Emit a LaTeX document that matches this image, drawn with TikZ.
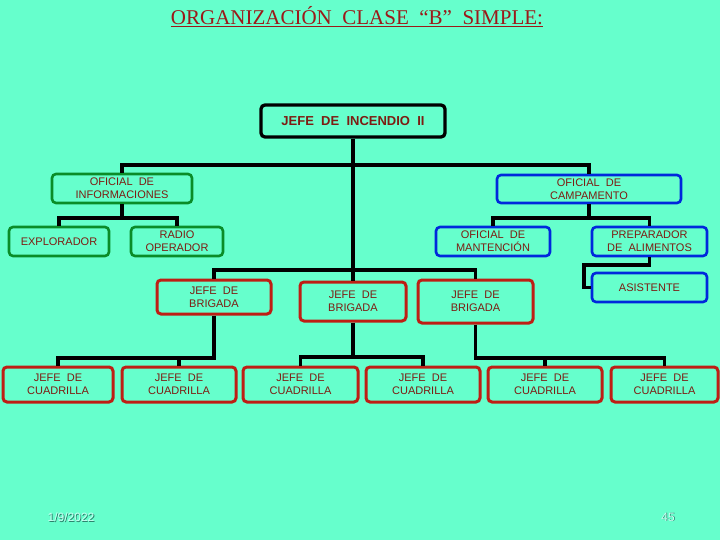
\documentclass[tikz,border=0pt]{standalone}
\usepackage{fontspec}
\setmainfont{Liberation Serif}
\newfontfamily\boxfont{Liberation Sans}
\definecolor{bg}{RGB}{102,255,204}
\definecolor{txt}{RGB}{125,28,18}
\definecolor{ttl}{RGB}{155,25,25}
\definecolor{rbord}{RGB}{190,30,20}
\definecolor{gbord}{RGB}{10,140,40}
\definecolor{bbord}{RGB}{0,40,220}
\definecolor{footfg}{RGB}{200,255,242}
\definecolor{footsh}{RGB}{40,120,100}
\tikzset{
  box/.style={draw, rounded corners=4pt, align=center, inner sep=0pt,
    font=\boxfont\fontsize{11}{13}\selectfont, text=txt},
  redbox/.style={box, draw=rbord, line width=3pt},
  greenbox/.style={box, draw=gbord, line width=2.6pt},
  bluebox/.style={box, draw=bbord, line width=2.6pt},
  link/.style={draw=black, line width=3.3pt},
  foot/.style={font=\boxfont\fontsize{12}{14}\selectfont, inner sep=0pt},
}
\begin{document}
\begin{tikzpicture}[x=1pt,y=-1pt]
\fill[bg] (0,0) rectangle (720,540);
\useasboundingbox (0,0) rectangle (720,540);
% title
\node[text=ttl, font=\fontsize{21}{24}\selectfont, inner sep=0pt] (title) at (357,17)
  {\underline{ORGANIZACIÓN\ \ CLASE\ \ “B”\ \ SIMPLE:}};
% boxes
\node[box, draw=black, line width=3.3pt, minimum width=184pt, minimum height=32pt,
  font=\boxfont\bfseries\fontsize{13}{15}\selectfont] (inc) at (353,121) {JEFE\ \ DE\ \ INCENDIO\ \ II};
\node[greenbox, minimum width=140pt, minimum height=29pt] (info) at (122,188.5) {OFICIAL\ \ DE\\INFORMACIONES};
\node[bluebox, minimum width=184pt, minimum height=28pt] (camp) at (589,189) {OFICIAL\ \ DE\\CAMPAMENTO};
\node[greenbox, minimum width=100pt, minimum height=29pt] (expl) at (59,241.5) {EXPLORADOR};
\node[greenbox, minimum width=92pt, minimum height=29pt] (radio) at (177,241.5) {RADIO\\OPERADOR};
\node[bluebox, minimum width=114pt, minimum height=29pt] (mant) at (493,241.5) {OFICIAL\ \ DE\\MANTENCIÓN};
\node[bluebox, minimum width=115pt, minimum height=29pt] (prep) at (649.5,241.5) {PREPARADOR\\DE\ \ ALIMENTOS};
\node[bluebox, minimum width=115pt, minimum height=29pt] (asis) at (649.5,287.5) {ASISTENTE};
\node[redbox, minimum width=114pt, minimum height=34pt] (b1) at (214,297) {JEFE\ \ DE\\BRIGADA};
\node[redbox, minimum width=106pt, minimum height=39pt] (b2) at (353,301.5) {JEFE\ \ DE\\BRIGADA};
\node[redbox, minimum width=115pt, minimum height=43pt] (b3) at (475.5,301.5) {JEFE\ \ DE\\BRIGADA};
\node[redbox, minimum width=110pt, minimum height=35pt] (c1) at (58,384.5) {JEFE\ \ DE\\CUADRILLA};
\node[redbox, minimum width=114pt, minimum height=35pt] (c2) at (179,384.5) {JEFE\ \ DE\\CUADRILLA};
\node[redbox, minimum width=115pt, minimum height=35pt] (c3) at (300.5,384.5) {JEFE\ \ DE\\CUADRILLA};
\node[redbox, minimum width=114pt, minimum height=35pt] (c4) at (423,384.5) {JEFE\ \ DE\\CUADRILLA};
\node[redbox, minimum width=114pt, minimum height=35pt] (c5) at (545,384.5) {JEFE\ \ DE\\CUADRILLA};
\node[redbox, minimum width=107pt, minimum height=35pt] (c6) at (664.5,384.5) {JEFE\ \ DE\\CUADRILLA};
% junctions
\coordinate (j1) at (353,165);
\coordinate (j2) at (353,270);
\coordinate (k1) at (122,218);
\coordinate (k2) at (589,218);
\coordinate (a1) at (584,265);
\coordinate (m1) at (214,358);
\coordinate (m2) at (353,357);
\coordinate (m3) at (475.5,358);
% connectors
\draw[link] (inc.south) -- (j2);
\draw[link] (info.north) |- (j1) -| (camp.north);
\draw[link] (info.south) -- (k1);
\draw[link] (expl.north) |- (k1) -| (radio.north);
\draw[link] (camp.south) -- (k2);
\draw[link] (mant.north) |- (k2) -| (prep.north);
\draw[link] (prep.south) |- (a1) |- (asis.west);
\draw[link] (b1.north) |- (j2) -| (b3.north);
\draw[link] (j2) -- (b2.north);
\draw[link] (b1.south) -- (m1) -| (c1.north);
\draw[link] (c2.north) -- (c2.north |- m1);
\draw[link] (b2.south) -- (m2);
\draw[link] (c3.north) |- (m2) -| (c4.north);
\draw[link] (b3.south) -- (m3) -| (c6.north);
\draw[link] (c5.north) -- (c5.north |- m3);
% footer
\node[foot, text=footsh] at (71.9,517.9) {1/9/2022};
\node[foot, text=footfg] (date) at (71,517) {1/9/2022};
\node[foot, text=footsh] at (668.9,517.9) {45};
\node[foot, text=footfg] (page) at (668,517) {45};
\end{tikzpicture}
\end{document}
